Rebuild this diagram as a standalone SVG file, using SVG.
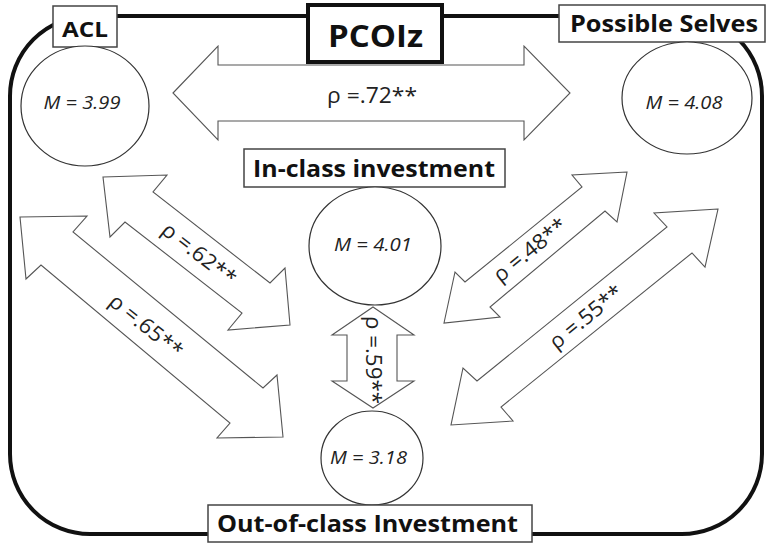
<svg xmlns="http://www.w3.org/2000/svg" width="766" height="543" viewBox="0 0 766 543">
<style>
.frame{fill:none;stroke:#111;stroke-width:4}
.box{fill:#fff;stroke:#444;stroke-width:1.5}
.lbl{font-family:"Open Sans","Liberation Sans",sans-serif;font-weight:bold;fill:#111;text-anchor:middle}
.circ{fill:#fff;stroke:#333;stroke-width:1.2}
.m{font-family:"Open Sans","Liberation Sans",sans-serif;font-style:italic;font-size:18px;fill:#222;text-anchor:middle}
.arr{fill:#fff;stroke:#555;stroke-width:1.1;stroke-linejoin:miter}
.rho{font-family:"Open Sans","Liberation Sans",sans-serif;font-size:21px;fill:#222;text-anchor:middle}
</style>
<rect class="frame" x="10" y="16" width="752" height="518" rx="80" ry="80"/>
<g id="connectors">
<polygon class="arr" points="173,93 218,46 218,65 524,65 524,46 570,93 524,140 524,121 218,121 218,140"/>
<text class="rho" x="372" y="103" textLength="90" lengthAdjust="spacingAndGlyphs">ρ =.72**</text>
<polygon class="arr" points="103,177 167,175 153,192 270,283 285,268 290,325 228,330 242,313 125,222 110,237"/>
<text class="rho" transform="translate(199,254) rotate(38)" x="0" y="7" textLength="88" lengthAdjust="spacingAndGlyphs">ρ =.62**</text>
<polygon class="arr" points="20,217 87,216 73,232 263,388 277,375 283,437 217,438 230,423 41,265 26,279"/>
<text class="rho" transform="translate(146,326) rotate(39)" x="0" y="7" textLength="88" lengthAdjust="spacingAndGlyphs">ρ =.65**</text>
<polygon class="arr" points="627,172 572,175 582,187 465,282 455,272 444,323 500,317 490,307 605,211 617,222"/>
<text class="rho" transform="translate(530,250) rotate(-39)" x="0" y="7" textLength="88" lengthAdjust="spacingAndGlyphs">ρ =.48**</text>
<polygon class="arr" points="718,209 654,213 667,227 477,381 463,368 451,425 513,421 501,407 692,253 705,267"/>
<text class="rho" transform="translate(586,317) rotate(-39)" x="0" y="7" textLength="88" lengthAdjust="spacingAndGlyphs">ρ =.55**</text>
<polygon class="arr" points="373,307 414,335 397,335 397,381 414,381 373,408 332,381 347,381 347,335 332,335"/>
<text class="rho" transform="translate(373,360) rotate(90)" x="0" y="7" textLength="88" lengthAdjust="spacingAndGlyphs">ρ =.59**</text>
</g>
<g id="acl">
<rect class="box" x="53" y="6" width="64" height="41"/>
<text class="lbl" x="85" y="37" font-size="22" textLength="46" lengthAdjust="spacingAndGlyphs">ACL</text>
<ellipse class="circ" cx="85" cy="106" rx="64" ry="60"/>
<text class="m" x="82" y="109" textLength="77" lengthAdjust="spacingAndGlyphs">M = 3.99</text>
</g>
<g id="pcoiz">
<rect x="308" y="5" width="134" height="57" fill="#fff" stroke="#111" stroke-width="4"/>
<text class="lbl" x="375.5" y="47" font-size="30" textLength="95" lengthAdjust="spacingAndGlyphs">PCOIz</text>
</g>
<g id="possible-selves">
<rect class="box" x="559" y="5" width="206" height="37"/>
<text class="lbl" x="664" y="32" font-size="24" textLength="188" lengthAdjust="spacingAndGlyphs">Possible Selves</text>
<ellipse class="circ" cx="687" cy="98" rx="65" ry="56"/>
<text class="m" x="684" y="109" textLength="77" lengthAdjust="spacingAndGlyphs">M = 4.08</text>
</g>
<g id="in-class">
<rect class="box" x="244" y="149" width="261" height="38"/>
<text class="lbl" x="374" y="177" font-size="23" textLength="242" lengthAdjust="spacingAndGlyphs">In-class investment</text>
<ellipse class="circ" cx="375" cy="246" rx="66" ry="59"/>
<text class="m" x="373" y="251" textLength="78" lengthAdjust="spacingAndGlyphs">M = 4.01</text>
</g>
<g id="out-of-class">
<ellipse class="circ" cx="372" cy="458" rx="51" ry="47"/>
<text class="m" x="368.5" y="464" textLength="77" lengthAdjust="spacingAndGlyphs">M = 3.18</text>
<rect class="box" x="208" y="505" width="324" height="37"/>
<text class="lbl" x="367.5" y="532" font-size="23" textLength="301" lengthAdjust="spacingAndGlyphs">Out-of-class Investment</text>
</g>
</svg>
